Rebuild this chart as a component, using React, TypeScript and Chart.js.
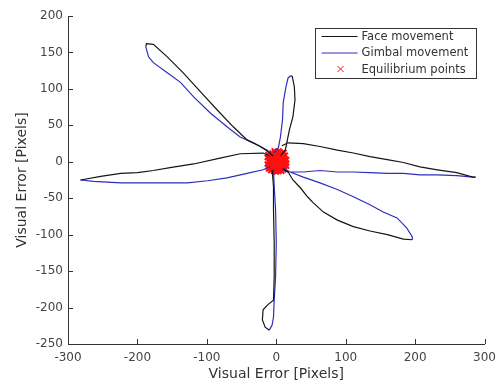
import React, { useEffect, useRef } from 'react';
import { Chart, registerables } from 'chart.js';

Chart.register(...registerables);

type P = [number, number];

const xTicks = [-300, -200, -100, 0, 100, 200, 300];
const yTicks = [-250, -200, -150, -100, -50, 0, 50, 100, 150, 200];

const seriesNames = ['Face movement', 'Gimbal movement', 'Equilibrium points'];

// Face movement (black), one outward/return stroke per petal
const faceUpperLeft: P[] = [[-5, 8], [-12, 14], [-23, 21], [-42, 30], [-62, 48], [-85, 71], [-109, 96], [-134, 122], [-157, 144], [-177, 161], [-187, 162], [-188, 158]];
const faceTop: P[] = [[6, 8], [13, 16], [16, 30], [19, 44], [24, 62], [27, 85], [26, 103], [23, 117], [21, 118]];
const faceRight: P[] = [[8, 22], [17, 26], [39, 25], [63, 21], [88, 16], [111, 12], [135, 7], [160, 3], [183, -1], [207, -7], [232, -11], [260, -15], [283, -21], [287, -21]];
const faceLowerRight: P[] = [[10, -10], [17, -14], [24, -25], [35, -36], [45, -48], [53, -56], [68, -69], [88, -80], [111, -89], [135, -95], [160, -100], [183, -106], [196, -107]];
const faceBottom: P[] = [[-6, -11], [-4, -34], [-4, -66], [-3, -111], [-3, -158], [-4, -190], [-12, -196], [-19, -203], [-20, -217], [-16, -227], [-10, -231]];
const faceLeft: P[] = [[-10, 8], [-19, 12], [-52, 11], [-81, 5], [-119, -3], [-153, -8], [-177, -12], [-200, -15], [-224, -16], [-253, -20], [-282, -25]];

// Gimbal movement (blue)
const gimbalUpperLeft: P[] = [[-188, 158], [-184, 144], [-177, 136], [-157, 122], [-138, 109], [-119, 89], [-95, 67], [-71, 48], [-52, 34], [-33, 26], [-13, 16], [-5, 8]];
const gimbalTop: P[] = [[21, 118], [17, 115], [14, 103], [10, 81], [9, 58], [6, 34], [3, 19], [-4, 12]];
const gimbalRight: P[] = [[287, -21], [283, -21], [260, -19], [232, -18], [207, -18], [183, -16], [160, -16], [135, -15], [111, -14], [88, -14], [63, -12], [39, -14], [16, -14], [8, -10]];
const gimbalLowerRight: P[] = [[196, -107], [196, -103], [188, -91], [174, -77], [154, -69], [135, -59], [111, -48], [88, -38], [63, -29], [39, -21], [20, -14], [10, -9]];
const gimbalBottom: P[] = [[-10, -231], [-6, -224], [-4, -213], [-3, -190], [-1, -158], [0, -111], [-1, -66], [-3, -34], [-4, -11]];
const gimbalLeft: P[] = [[-282, -25], [-263, -27], [-224, -29], [-177, -29], [-128, -29], [-99, -26], [-71, -22], [-42, -16], [-19, -11], [-9, -7]];

// Equilibrium points (red x)
const equilibrium: P[] = [
  [-9, -8], [-6, -10], [-2, -11], [2, -10], [6, -11], [9, -9], [12, -7],
  [-10, -4], [-7, -5], [-3, -6], [1, -5], [5, -6], [8, -4], [11, -3],
  [-11, 0], [-8, 1], [-4, -1], [0, 0], [3, 1], [7, -1], [10, 0], [13, 1],
  [-10, 4], [-6, 5], [-2, 3], [2, 4], [6, 5], [9, 3], [12, 5],
  [-9, 8], [-5, 9], [-1, 8], [3, 10], [7, 9], [10, 8],
  [-6, 12], [-2, 13], [2, 12], [6, 13], [9, 11],
  [-4, -13], [0, -14], [4, -13], [-12, -7], [14, -3], [-13, 6], [13, 9],
  [-8, -12], [8, -13], [11, -11], [-11, -10], [15, 3], [15, -6], [-13, -3],
  [-12, 10], [-3, 15], [4, 15], [11, 13], [1, -2], [-5, 2], [5, 7], [-2, -8],
];

const FONT = 'DejaVu Sans';

function joinStrokes(strokes: P[][]) {
  const out: { x: number | null; y: number | null }[] = [];
  strokes.forEach((s, i) => {
    if (i > 0) out.push({ x: null, y: null });
    s.forEach(([x, y]) => out.push({ x, y }));
  });
  return out;
}

const colors = { face: '#151515', gimbal: '#2e2ebc', eq: '#ff1010' };

const legendPlugin = {
  id: 'boxLegend',
  afterDraw(chart: any) {
    const { ctx, chartArea } = chart;
    const w = 161, h = 50;
    const left = chartArea.right - 9 - w;
    const top = chartArea.top + 12;
    ctx.save();
    ctx.fillStyle = '#ffffff';
    ctx.fillRect(left, top, w, h);
    ctx.strokeStyle = '#333333';
    ctx.lineWidth = 1;
    ctx.strokeRect(Math.round(left) + 0.5, Math.round(top) + 0.5, w, h);
    const rows = [top + 8, top + 24.5, top + 41];
    ctx.font = `11.5px "${FONT}"`;
    ctx.textBaseline = 'middle';
    ctx.textAlign = 'left';
    const lineCols = [colors.face, colors.gimbal];
    lineCols.forEach((c, i) => {
      ctx.strokeStyle = c;
      ctx.beginPath();
      ctx.moveTo(left + 7, rows[i] + 0.5);
      ctx.lineTo(left + 43, rows[i] + 0.5);
      ctx.stroke();
    });
    ctx.strokeStyle = colors.eq;
    const cx = left + 26, cy = rows[2], r = 3;
    ctx.beginPath();
    ctx.moveTo(cx - r, cy - r); ctx.lineTo(cx + r, cy + r);
    ctx.moveTo(cx - r, cy + r); ctx.lineTo(cx + r, cy - r);
    ctx.stroke();
    ctx.fillStyle = '#333333';
    seriesNames.forEach((n, i) => ctx.fillText(n, left + 47, rows[i] + 1));
    ctx.restore();
  },
};

const tickPlugin = {
  id: 'inwardTicks',
  afterDatasetsDraw(chart: any) {
    const { ctx, chartArea, scales } = chart;
    ctx.save();
    ctx.strokeStyle = '#333333';
    ctx.lineWidth = 1;
    ctx.beginPath();
    scales.x.ticks.forEach((t: any) => {
      const px = Math.round(scales.x.getPixelForValue(t.value)) + 0.5;
      ctx.moveTo(px, chartArea.bottom);
      ctx.lineTo(px, chartArea.bottom - 5);
    });
    scales.y.ticks.forEach((t: any) => {
      const py = Math.round(scales.y.getPixelForValue(t.value)) + 0.5;
      ctx.moveTo(chartArea.left, py);
      ctx.lineTo(chartArea.left + 5, py);
    });
    ctx.stroke();
    ctx.restore();
  },
};

export default function App() {
  const ref = useRef<HTMLCanvasElement>(null);
  useEffect(() => {
    if (!ref.current) return;
    const chart = new Chart(ref.current, {
      type: 'scatter',
      data: {
        datasets: [
          {
            label: seriesNames[0],
            data: joinStrokes([faceUpperLeft, faceTop, faceRight, faceLowerRight, faceBottom, faceLeft]) as any,
            showLine: true,
            borderColor: colors.face,
            borderWidth: 1.2,
            pointRadius: 0,
            spanGaps: false,
          },
          {
            label: seriesNames[1],
            data: joinStrokes([gimbalUpperLeft, gimbalTop, gimbalRight, gimbalLowerRight, gimbalBottom, gimbalLeft]) as any,
            showLine: true,
            borderColor: colors.gimbal,
            borderWidth: 1.2,
            pointRadius: 0,
            spanGaps: false,
          },
          {
            label: seriesNames[2],
            data: equilibrium.map(([x, y]) => ({ x, y })),
            showLine: false,
            pointStyle: 'crossRot',
            pointRadius: 3.5,
            borderColor: colors.eq,
            backgroundColor: colors.eq,
            borderWidth: 2,
          },
        ],
      },
      options: {
        animation: false,
        responsive: true,
        maintainAspectRatio: false,
        layout: { padding: { top: 16, right: 18, left: 0, bottom: 0 } },
        plugins: { legend: { display: false }, tooltip: { enabled: false } },
        scales: {
          x: {
            type: 'linear',
            min: -300,
            max: 300,
            afterBuildTicks: (s: any) => { s.ticks = xTicks.map((v) => ({ value: v })); },
            afterFit: (s: any) => { s.height = 41; },
            grid: { display: true, drawOnChartArea: false, drawTicks: false },
            border: { display: true, color: '#333333' },
            ticks: { padding: 7, color: '#444444', font: { family: FONT, size: 12 }, autoSkip: false, maxRotation: 0 },
            title: { display: true, text: 'Visual Error [Pixels]', color: '#333333', font: { family: FONT, size: 14 }, padding: { top: 0, bottom: 2 } },
          },
          y: {
            type: 'linear',
            min: -250,
            max: 200,
            afterBuildTicks: (s: any) => { s.ticks = yTicks.map((v) => ({ value: v })); },
            afterFit: (s: any) => { s.width = 68; },
            grid: { display: true, drawOnChartArea: false, drawTicks: false },
            border: { display: true, color: '#333333' },
            ticks: { padding: 5, color: '#444444', font: { family: FONT, size: 12 }, autoSkip: false },
            title: { display: true, text: 'Visual Error [Pixels]', color: '#333333', font: { family: FONT, size: 14 }, padding: { top: 14, bottom: 0 } },
          },
        },
      },
      plugins: [tickPlugin, legendPlugin],
    });
    return () => chart.destroy();
  }, []);
  return (
    <div style={{ position: 'absolute', left: 0, top: 0, width: 503, height: 385, background: '#fff' }}>
      <canvas ref={ref} />
    </div>
  );
}
